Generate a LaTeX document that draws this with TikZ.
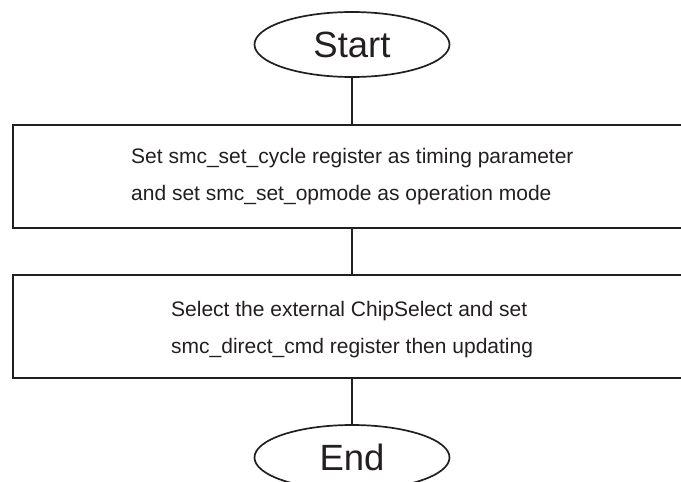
\documentclass[tikz,border=0pt]{standalone}
\usepackage{fontspec}
\setmainfont{Liberation Sans}
\usetikzlibrary{shapes.geometric}
\definecolor{ink}{HTML}{231F20}

\begin{document}
\begin{tikzpicture}[x=1pt, y=-1pt,
          every node/.style={text=ink},
          terminal/.style={draw=ink, ellipse, line width=1.7pt,
            minimum width=195pt, minimum height=65pt, inner sep=0pt,
            font=\fontsize{36.5}{40}\selectfont},
          stepbox/.style={draw=ink, rectangle, line width=2pt,
            minimum width=700pt, minimum height=103pt, anchor=north west},
          steptext/.style={anchor=base west, inner sep=0pt,
            font=\fontsize{21}{25}\selectfont},
          link/.style={draw=ink, line width=2pt}]
        % Coordinates: pixel units of the 681x482 page, y running down,
        %   flow axis at x=352; the boxes run past the right edge.
        \useasboundingbox (0,0) rectangle (681,482);
        \clip (0,0) rectangle (681,482);
        \node[terminal] (start) at (352,44.5) {Start};
        \node[terminal] (end) at (352,457.5) {End};
        \node[stepbox] (box1) at (12,124) {};
        \node[stepbox] (box2) at (12,274) {};
        % two left-aligned lines per box
        \foreach \nm/\x/\y/\txt in {
            t1a/131/163/{Set smc\_set\_cycle register as timing parameter},
            t1b/131/200/{and set smc\_set\_opmode as operation mode},
            t2a/171/316/{Select the external ChipSelect and set},
            t2b/171/353/{smc\_direct\_cmd register then updating}} {
          \node[steptext] (\nm) at (\x,\y) {\txt};
        }
        \draw[link] (start.south) -- (start.south |- box1.north);
        \draw[link] (start.south |- box1.south) -- (start.south |- box2.north);
        \draw[link] (start.south |- box2.south) -- (end.north);
      \end{tikzpicture}
\end{document}
